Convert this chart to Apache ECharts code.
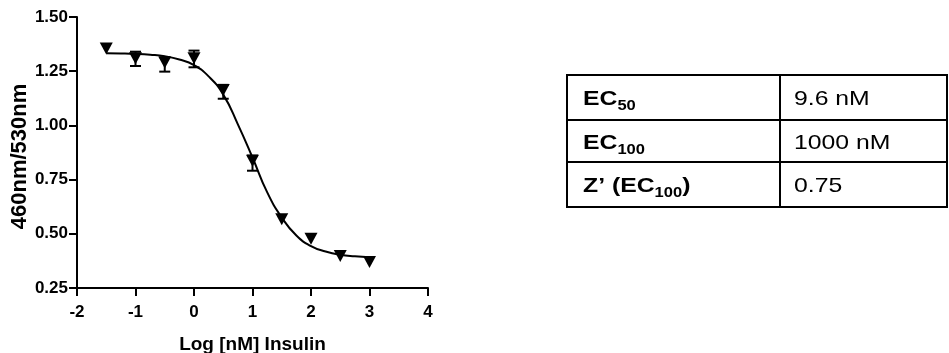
<!DOCTYPE html>
<html><head><meta charset="utf-8">
<script src="https://cdn.jsdelivr.net/npm/echarts@6/dist/echarts.min.js"></script>
<style>html,body{margin:0;padding:0;background:#fff}#c{width:949px;height:353px}</style>
</head><body><div id="c"></div>
<script>
// ---- data ----
const logDose = [-1.5, -1, -0.5, 0, 0.5, 1, 1.5, 2, 2.5, 3];
const ratioMean = [1.355, 1.31, 1.29, 1.31, 1.163, 0.837, 0.567, 0.477, 0.398, 0.37];
const errBelow = [0, 0.036, 0.042, 0.042, 0.04, 0.046, 0, 0, 0, 0];
const errAbove = [0, 0.03, 0.024, 0.035, 0.024, 0.024, 0, 0, 0, 0];
const fitX = [-1.5, -1.25, -1, -0.75, -0.5, -0.25, 0, 0.25, 0.5, 0.75, 1, 1.25, 1.5, 1.75, 2, 2.25, 2.5, 2.75, 3];
const fitY = [1.333, 1.332, 1.330, 1.326, 1.319, 1.304, 1.278, 1.226, 1.142, 1.005, 0.852, 0.692, 0.575, 0.492, 0.443, 0.418, 0.403, 0.396, 0.392];
const yTicks = { min: 0.25, max: 1.5, step: 0.25 };
const xTicks = { min: -2, max: 4, step: 1 };
const tableLabels = [['EC', '50', ''], ['EC', '100', ''], ['Z\u2019 (EC', '100', ')']];
const tableValues = ['9.6 nM', '1000 nM', '0.75'];

// ---- layout / style ----
const FONT = "'Liberation Sans', Arial, Helvetica, sans-serif";
const TB = { x: 567, right: 947, colX: 780, rows: [75, 120, 162, 207], padL: 16, padR: 14, stretch: 1.18 };

const chart = echarts.init(document.getElementById('c'));

const tableEls = [];
tableEls.push({ type: 'rect', shape: { x: TB.x, y: TB.rows[0], width: TB.right - TB.x, height: TB.rows[3] - TB.rows[0] },
  style: { fill: 'none', stroke: '#000', lineWidth: 2 } });
for (let i = 1; i < TB.rows.length - 1; i++) {
  tableEls.push({ type: 'line', shape: { x1: TB.x, y1: TB.rows[i], x2: TB.right, y2: TB.rows[i] }, style: { stroke: '#000', lineWidth: 2 } });
}
tableEls.push({ type: 'line', shape: { x1: TB.colX, y1: TB.rows[0], x2: TB.colX, y2: TB.rows[3] }, style: { stroke: '#000', lineWidth: 2 } });
const rich = {
  m: { fontSize: 21, fontWeight: 'bold', fontFamily: FONT, color: '#000', lineHeight: 24 },
  s: { fontSize: 14, fontWeight: 'bold', fontFamily: FONT, color: '#000', height: 10, lineHeight: 10, verticalAlign: 'bottom' }
};
tableLabels.forEach((lab, i) => {
  const cy = (TB.rows[i] + TB.rows[i + 1]) / 2 + 2;
  let t = '{m|' + lab[0] + '}{s|' + lab[1] + '}';
  if (lab[2]) t += '{m|' + lab[2] + '}';
  tableEls.push({ type: 'text', x: TB.x + TB.padL, y: cy, scaleX: TB.stretch,
    style: { text: t, rich: rich, verticalAlign: 'middle', align: 'left' } });
  tableEls.push({ type: 'text', x: TB.colX + TB.padR, y: cy, scaleX: TB.stretch,
    style: { text: tableValues[i], font: '21px ' + FONT, fill: '#000', verticalAlign: 'middle', align: 'left' } });
});

chart.setOption({
  animation: false,
  backgroundColor: '#fff',
  grid: { left: 77, right: 949 - 428, top: 17, bottom: 353 - 288, containLabel: false, outerBoundsMode: 'none' },
  xAxis: {
    type: 'value', min: xTicks.min, max: xTicks.max, interval: xTicks.step,
    name: 'Log [nM] Insulin', nameLocation: 'middle', nameGap: 47,
    nameTextStyle: { fontSize: 19, fontWeight: 'bold', fontFamily: FONT, color: '#000' },
    axisLine: { onZero: false, lineStyle: { color: '#000', width: 2 } },
    axisTick: { length: 8, lineStyle: { color: '#000', width: 2 } },
    axisLabel: { margin: 16, fontSize: 17, fontWeight: 'bold', fontFamily: FONT, color: '#000' },
    splitLine: { show: false }
  },
  yAxis: {
    type: 'value', min: yTicks.min, max: yTicks.max, interval: yTicks.step,
    name: '460nm/530nm', nameLocation: 'middle', nameGap: 45,
    nameTextStyle: { fontSize: 22, fontWeight: 'bold', fontFamily: FONT, color: '#000', padding: [0, 8, 0, 0] },
    axisLine: { onZero: false, lineStyle: { color: '#000', width: 2 } },
    axisTick: { length: 8, lineStyle: { color: '#000', width: 2 } },
    axisLabel: { margin: 9, fontSize: 17, fontWeight: 'bold', fontFamily: FONT, color: '#000',
      formatter: v => v.toFixed(2) },
    splitLine: { show: false }
  },
  series: [
    { type: 'line', data: fitX.map((x, i) => [x, fitY[i]]), smooth: true, showSymbol: false, symbol: 'none',
      lineStyle: { color: '#000', width: 2 }, z: 2 },
    { type: 'custom', z: 3,
      encode: { x: 0, y: [1, 2] },
      data: logDose.map((x, i) => [x, ratioMean[i] - errBelow[i], ratioMean[i] + errAbove[i]]),
      renderItem: (params, api) => {
        if (api.value(1) === api.value(2)) return null;
        const x = api.value(0);
        const lo = api.coord([x, api.value(1)]);
        const hi = api.coord([x, api.value(2)]);
        const hw = 5.5;
        const st = { stroke: '#000', lineWidth: 2 };
        return { type: 'group', children: [
          { type: 'line', shape: { x1: lo[0], y1: lo[1], x2: hi[0], y2: hi[1] }, style: st },
          { type: 'line', shape: { x1: lo[0] - hw, y1: lo[1], x2: lo[0] + hw, y2: lo[1] }, style: st },
          { type: 'line', shape: { x1: hi[0] - hw, y1: hi[1], x2: hi[0] + hw, y2: hi[1] }, style: st }
        ] };
      }
    },
    { type: 'scatter', data: logDose.map((x, i) => [x, ratioMean[i]]), symbol: 'triangle', symbolRotate: 180,
      symbolSize: [13, 12], itemStyle: { color: '#000', opacity: 1 }, z: 4 }
  ],
  graphic: { elements: tableEls }
});
</script></body></html>
